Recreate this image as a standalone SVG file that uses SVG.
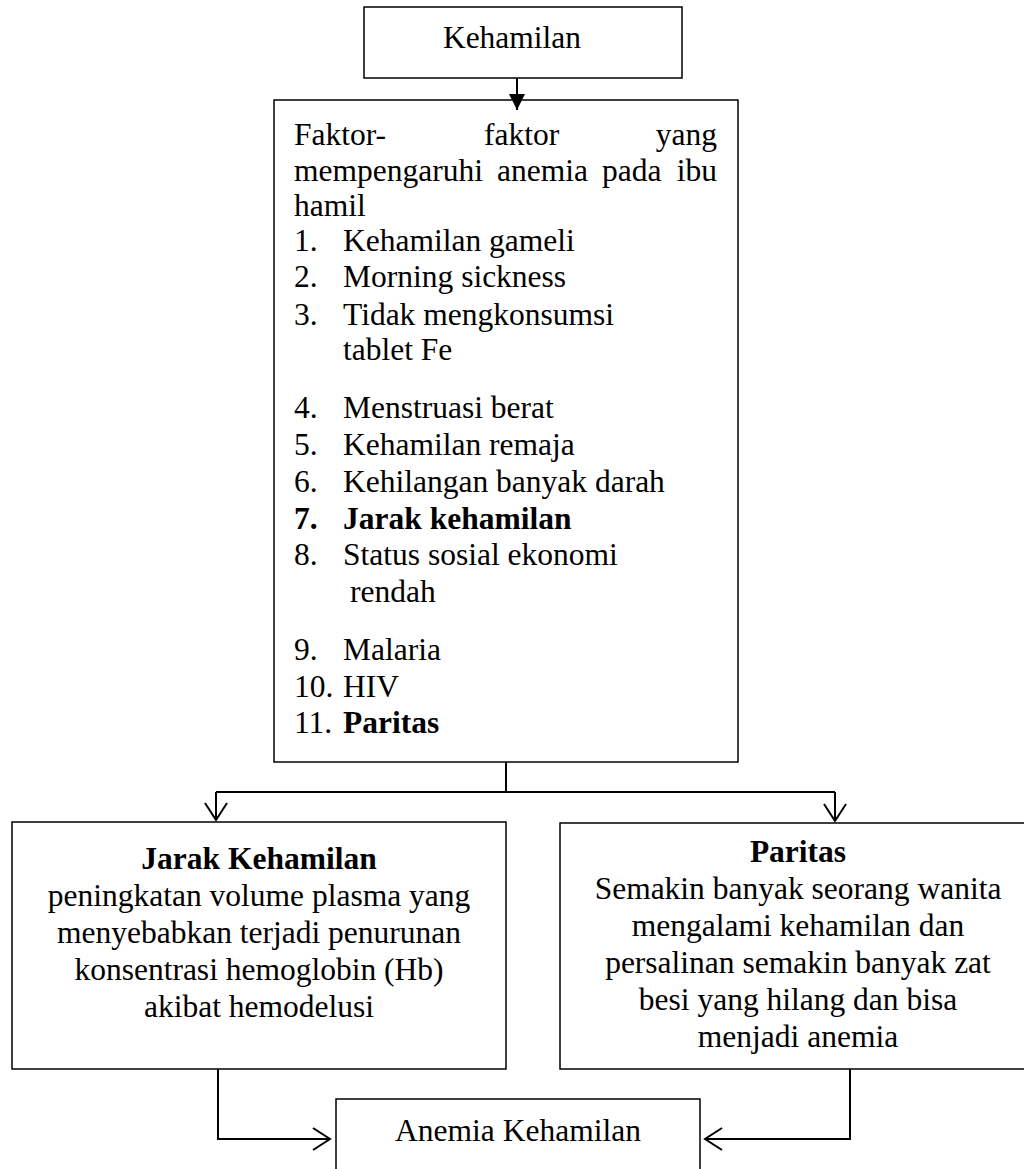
<svg xmlns="http://www.w3.org/2000/svg" width="1024" height="1169" viewBox="0 0 1024 1169">
<style>
text{font-family:"Liberation Serif","Times New Roman",serif;font-size:31.5px;fill:#000}
.b{font-weight:bold}
.c{text-anchor:middle}
.e{text-anchor:end}
.box{fill:#fff;stroke:#000;stroke-width:1.5}
.ln{fill:none;stroke:#000;stroke-width:2}
</style>
<defs>
<marker id="open" viewBox="0 0 20 24" refX="18" refY="12" markerWidth="20" markerHeight="24" markerUnits="userSpaceOnUse" orient="auto">
<path d="M1,1 L18,12 L1,23" fill="none" stroke="#000" stroke-width="2"/>
</marker>
<marker id="fill" viewBox="0 0 16 18" refX="16" refY="9" markerWidth="16" markerHeight="18" markerUnits="userSpaceOnUse" orient="auto">
<path d="M0,1 L16,9 L0,17 Z" fill="#000"/>
</marker>
</defs>
<g id="n-kehamilan">
<rect class="box" x="364" y="7" width="318" height="71"/>
<text class="c" x="512" y="48">Kehamilan</text>
</g>
<g id="n-faktor">
<rect class="box" x="274" y="100" width="464" height="662"/>
<text x="294" y="145">Faktor-</text>
<text x="484" y="145">faktor</text>
<text class="e" x="717" y="145">yang</text>
<text x="294" y="181">mempengaruhi</text>
<text x="497" y="181">anemia</text>
<text x="602" y="181">pada</text>
<text class="e" x="717" y="181">ibu</text>
<text x="294" y="216">hamil</text>
<text x="294" y="251">1.</text><text x="343" y="251">Kehamilan gameli</text>
<text x="294" y="287">2.</text><text x="343" y="287">Morning sickness</text>
<text x="294" y="325">3.</text><text x="343" y="325">Tidak mengkonsumsi</text>
<text x="343" y="360">tablet Fe</text>
<text x="294" y="418">4.</text><text x="343" y="418">Menstruasi berat</text>
<text x="294" y="455">5.</text><text x="343" y="455">Kehamilan remaja</text>
<text x="294" y="492">6.</text><text x="343" y="492">Kehilangan banyak darah</text>
<text class="b" x="294" y="529">7.</text><text class="b" x="343" y="529">Jarak kehamilan</text>
<text x="294" y="565">8.</text><text x="343" y="565">Status sosial ekonomi</text>
<text x="350" y="602">rendah</text>
<text x="294" y="660">9.</text><text x="343" y="660">Malaria</text>
<text x="294" y="697">10.</text><text x="343" y="697">HIV</text>
<text x="294" y="733">11.</text><text class="b" x="343" y="733">Paritas</text>
</g>
<g id="n-jarak">
<rect class="box" x="12" y="822" width="494" height="247"/>
<text class="c b" x="259" y="869">Jarak Kehamilan</text>
<text class="c" x="259" y="906">peningkatan volume plasma yang</text>
<text class="c" x="259" y="943">menyebabkan terjadi penurunan</text>
<text class="c" x="259" y="980">konsentrasi hemoglobin (Hb)</text>
<text class="c" x="259" y="1017">akibat hemodelusi</text>
</g>
<g id="n-paritas">
<rect class="box" x="560" y="823" width="476" height="246"/>
<text class="c b" x="798" y="862">Paritas</text>
<text class="c" x="798" y="899">Semakin banyak seorang wanita</text>
<text class="c" x="798" y="936">mengalami kehamilan dan</text>
<text class="c" x="798" y="973">persalinan semakin banyak zat</text>
<text class="c" x="798" y="1010">besi yang hilang dan bisa</text>
<text class="c" x="798" y="1047">menjadi anemia</text>
</g>
<g id="n-anemia">
<rect class="box" x="336" y="1099" width="364" height="90"/>
<text class="c" x="518" y="1141">Anemia Kehamilan</text>
</g>
<g id="connectors">
<path class="ln" d="M517,78 L517,110" marker-end="url(#fill)"/>
<path class="ln" d="M506,762 L506,792"/>
<path class="ln" d="M216,792 L835,792" stroke-width="2.5"/>
<path class="ln" d="M216,792 L216,820" marker-end="url(#open)"/>
<path class="ln" d="M835,792 L835,821" marker-end="url(#open)"/>
<path class="ln" d="M218,1069 L218,1139 L330,1139" marker-end="url(#open)"/>
<path class="ln" d="M850,1069 L850,1139 L705,1139" marker-end="url(#open)"/>
</g>
</svg>
